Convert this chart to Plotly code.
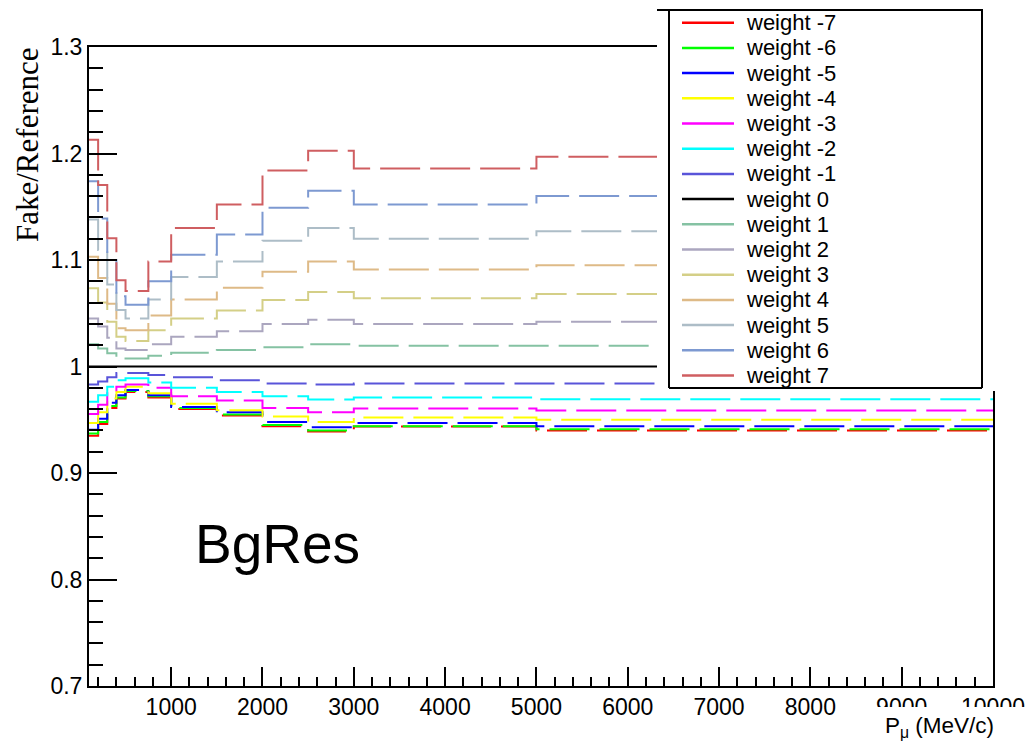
import plotly.graph_objects as go

# Momentum bin edges (MeV/c)
edges = [100, 200, 300, 400, 500, 750, 1000, 1500, 2000, 2500, 3000, 5000, 10000]

# Fake/Reference ratio per bin for each weight
w_m7 = [0.935, 0.946, 0.961, 0.970, 0.976, 0.971, 0.960, 0.954, 0.944, 0.939, 0.9436, 0.9398]
w_m6 = [0.937, 0.948, 0.963, 0.971, 0.977, 0.972, 0.961, 0.955, 0.945, 0.940, 0.944, 0.941]
w_m5 = [0.9405, 0.951, 0.966, 0.973, 0.978, 0.973, 0.962, 0.957, 0.948, 0.943, 0.947, 0.944]
w_m4 = [0.947, 0.957, 0.970, 0.976, 0.981, 0.975, 0.965, 0.959, 0.953, 0.948, 0.952, 0.950]
w_m3 = [0.9555, 0.964, 0.975, 0.981, 0.983, 0.980, 0.972, 0.968, 0.961, 0.957, 0.9605, 0.9586]
w_m2 = [0.967, 0.973, 0.981, 0.987, 0.989, 0.985, 0.980, 0.976, 0.972, 0.969, 0.971, 0.9693]
w_m1 = [0.983, 0.986, 0.990, 0.994, 0.994, 0.992, 0.990, 0.987, 0.984, 0.983, 0.984, 0.984]
w_0 = [1.0, 1.0, 1.0, 1.0, 1.0, 1.0, 1.0, 1.0, 1.0, 1.0, 1.0, 1.0]
w_1 = [1.021, 1.017, 1.0125, 1.0087, 1.0075, 1.010, 1.013, 1.0156, 1.018, 1.021, 1.0195, 1.0195]
w_2 = [1.045, 1.0375, 1.027, 1.017, 1.0156, 1.021, 1.028, 1.033, 1.040, 1.044, 1.040, 1.042]
w_3 = [1.0735, 1.060, 1.042, 1.028, 1.024, 1.034, 1.045, 1.0525, 1.0625, 1.070, 1.064, 1.068]
w_4 = [1.103, 1.083, 1.059, 1.036, 1.034, 1.048, 1.063, 1.074, 1.089, 1.0985, 1.091, 1.095]
w_5 = [1.138, 1.1095, 1.077, 1.053, 1.045, 1.063, 1.084, 1.0985, 1.118, 1.130, 1.120, 1.127]
w_6 = [1.174, 1.139, 1.100, 1.066, 1.058, 1.080, 1.105, 1.124, 1.149, 1.165, 1.152, 1.160]
w_7 = [1.213, 1.1705, 1.1205, 1.081, 1.071, 1.0985, 1.130, 1.152, 1.184, 1.2025, 1.186, 1.197]

names = ["weight -7", "weight -6", "weight -5", "weight -4", "weight -3", "weight -2",
         "weight -1", "weight 0", "weight 1", "weight 2", "weight 3", "weight 4",
         "weight 5", "weight 6", "weight 7"]
series = [w_m7, w_m6, w_m5, w_m4, w_m3, w_m2, w_m1, w_0, w_1, w_2, w_3, w_4, w_5, w_6, w_7]
colors = ["#ff0000", "#00ff00", "#0000ff", "#ffff00", "#ff00ff", "#00ffff", "#5954d9",
          "#000000", "#85c2a3", "#aba6bf", "#d4cf87", "#deba87", "#adbdc7", "#7d99d1",
          "#cf5e61"]

SANS = "Liberation Sans, Arial, Helvetica, sans-serif"
SERIF = "Liberation Serif, Times New Roman, serif"

W, H = 1028, 747
L, R, T, B = 89, 993, 47, 686  # plot-area pixel box


def px(x):
    return (x - L) / (R - L)


def py(y):
    return (B - y) / (B - T)


fig = go.Figure()
for name, vals, col in zip(names, series, colors):
    fig.add_trace(go.Scatter(
        x=edges, y=vals + [vals[-1]], mode="lines", line_shape="hv", name=name,
        line=dict(color=col, width=2, dash="solid" if name == "weight 0" else "40px,10px"),
        showlegend=False, hoverinfo="skip",
    ))

shapes = []
annotations = []

# legend panel: white backing, then border
shapes.append(dict(type="rect", xref="paper", yref="paper", layer="above",
                   x0=px(657), x1=px(997), y0=py(391), y1=py(9),
                   fillcolor="white", line=dict(width=0)))
for (x0, y0, x1, y1) in [(657, 10, 983, 10), (669, 10, 669, 388),
                         (669, 388, 982, 388), (982, 10, 982, 388)]:
    shapes.append(dict(type="line", xref="paper", yref="paper", layer="above",
                       x0=px(x0), x1=px(x1), y0=py(y0), y1=py(y1),
                       line=dict(color="black", width=2)))

row0, rowh = 22.7, 25.2
for i, (name, col) in enumerate(zip(names, colors)):
    yy = row0 + i * rowh
    shapes.append(dict(type="line", xref="paper", yref="paper", layer="above",
                       x0=px(682), x1=px(734), y0=py(yy), y1=py(yy),
                       line=dict(color=col, width=2.5)))
    annotations.append(dict(text=name, xref="paper", yref="paper", x=px(744), y=py(yy),
                            xanchor="left", yanchor="middle", showarrow=False,
                            font=dict(family=SANS, size=22, color="black")))

# white band behind the x-axis title
shapes.append(dict(type="rect", xref="paper", yref="paper", layer="above",
                   x0=px(876), x1=px(1028), y0=py(747), y1=py(707),
                   fillcolor="white", line=dict(width=0)))

annotations.append(dict(text="P<sub>μ</sub> (MeV/c)", xref="paper", yref="paper",
                        x=px(996), y=py(743), xanchor="right", yanchor="bottom",
                        showarrow=False, font=dict(family=SANS, size=22.5, color="black")))
annotations.append(dict(text="Fake/Reference", xref="paper", yref="paper",
                        x=px(27), y=py(145), xanchor="center", yanchor="middle",
                        textangle=-90, showarrow=False,
                        font=dict(family=SERIF, size=31, color="black")))
annotations.append(dict(text="BgRes", xref="paper", yref="paper",
                        x=px(193), y=py(544), xanchor="left", yanchor="middle",
                        showarrow=False, font=dict(family=SANS, size=55, color="black")))

fig.update_layout(
    width=W, height=H,
    margin=dict(l=L, r=W - R, t=T, b=H - B, pad=0, autoexpand=False),
    paper_bgcolor="white", plot_bgcolor="white",
    shapes=shapes, annotations=annotations,
    showlegend=False,
    xaxis=dict(range=[100, 10000], tick0=0, dtick=1000, tickformat="d",
               ticks="inside", ticklen=19, ticklabelstandoff=-1, automargin=False,
               tickwidth=1.5, tickcolor="black", showline=True, linecolor="black",
               linewidth=2, mirror=True, showgrid=False, zeroline=False,
               tickfont=dict(family=SANS, size=23, color="black"),
               minor=dict(dtick=200, tick0=0, ticks="inside", ticklen=9,
                          tickwidth=1.5, tickcolor="black", showgrid=False)),
    yaxis=dict(range=[0.7, 1.3], tick0=0.7, dtick=0.1, ticks="inside", ticklen=28,
               automargin=False,
               tickwidth=1.5, tickcolor="black", showline=True, linecolor="black",
               linewidth=2, mirror=True, showgrid=False, zeroline=False,
               tickfont=dict(family=SANS, size=23, color="black"),
               minor=dict(dtick=0.02, tick0=0.7, ticks="inside", ticklen=14,
                          tickwidth=1.5, tickcolor="black", showgrid=False)),
)

fig.write_html("out.html")
